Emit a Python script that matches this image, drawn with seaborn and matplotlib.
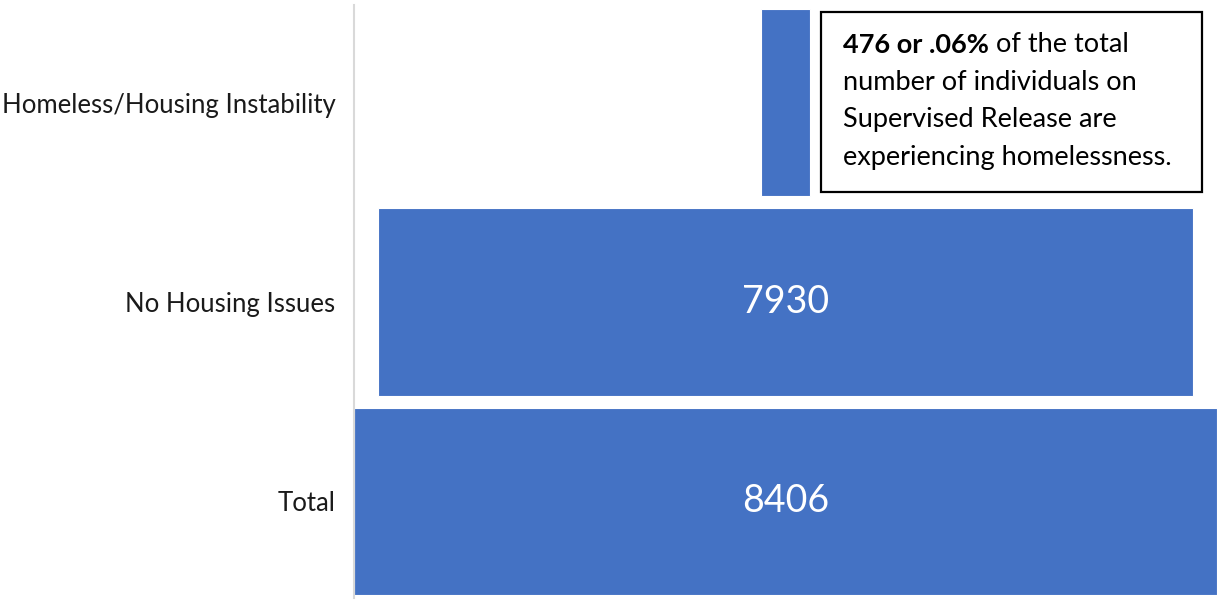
import matplotlib
matplotlib.use("Agg")
import matplotlib.pyplot as plt
from matplotlib.patches import Rectangle
import seaborn as sns
import pandas as pd

categories = ["Homeless/Housing Instability", "No Housing Issues", "Total"]
counts = [476, 7930, 8406]
shown_labels = ["", "7930", "8406"]
note_bold = "476 or .06%"
note_rest_first = " of the total"
note_lines = ["number of individuals on", "Supervised Release are", "experiencing homelessness."]

sns.set_theme(style="white")
plt.rcParams["font.family"] = ["Lato", "DejaVu Sans"]

df = pd.DataFrame({"category": categories, "count": counts})

fig = plt.figure(figsize=(12.17, 6.15), dpi=100)
ax = fig.add_axes([354 / 1217, 1 - 598 / 615, 1 - 354 / 1217, 593 / 615])

sns.barplot(data=df, x="count", y="category", order=categories, color="#4472C4",
            saturation=1, width=0.94, orient="h", ax=ax)

# Center each bar on the widest one to form a funnel
top = max(counts)
for patch in ax.patches:
    w = patch.get_width()
    patch.set_x((top - w) / 2)
    patch.set_edgecolor("white")
    patch.set_linewidth(0.8)

for patch, lab in zip(ax.patches, shown_labels):
    if lab:
        ax.text(top / 2, patch.get_y() + patch.get_height() / 2, lab,
                color="white", fontsize=27, ha="center", va="center")

ax.set_xlim(0, top)
ax.set_ylim(2.485, -0.49)
ax.set_xlabel("")
ax.set_ylabel("")
ax.set_xticks([])
ax.tick_params(axis="y", length=0, labelsize=18.5, labelcolor="#1a1a1a", pad=13.5)
for side in ["top", "right", "bottom"]:
    ax.spines[side].set_visible(False)
ax.spines["left"].set_color("#d9d9d9")
ax.spines["left"].set_linewidth(1.5)

# Callout box next to the smallest bar
W, H = 1217, 615
fig.patches.append(Rectangle((821 / W, 1 - 192 / H), (1202 - 821) / W, (192 - 12) / H,
                             transform=fig.transFigure, facecolor="white",
                             edgecolor="black", linewidth=1.6, zorder=5))
x0 = 843 / W
line_y = [45, 82, 120, 158]
fs = 19.5
t_bold = fig.text(x0, 1 - line_y[0] / H, note_bold, fontsize=fs, fontweight="bold",
                  color="black", va="center", ha="left", zorder=6)
fig.canvas.draw()
bb = t_bold.get_window_extent(renderer=fig.canvas.get_renderer())
fig.text(bb.x1 / W, 1 - line_y[0] / H, note_rest_first, fontsize=fs, color="black",
         va="center", ha="left", zorder=6)
for ly, txt in zip(line_y[1:], note_lines):
    fig.text(x0, 1 - ly / H, txt, fontsize=fs, color="black", va="center", ha="left", zorder=6)

fig.savefig("out.png", dpi=100)
